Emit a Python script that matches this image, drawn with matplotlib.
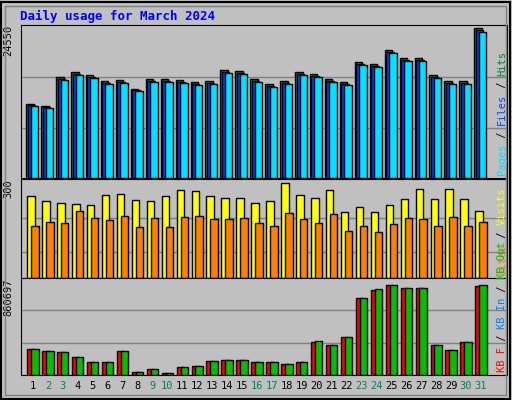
import numpy as np
import matplotlib.pyplot as plt
from matplotlib.patches import Rectangle

days = np.arange(1, 32)
weekend = [2, 3, 9, 10, 16, 17, 23, 24, 30, 31]

hits = [12100, 11760, 16470, 17310, 16810, 15810, 15980, 14640, 16140, 16140,
        15980, 15650, 15810, 17640, 17480, 16140, 15310, 15810, 17310, 16980,
        16140, 15650, 18980, 18640, 20980, 19640, 19640, 16810, 15810, 15810, 24550]
files = [h * 0.985 for h in hits]
pages = [h * 0.975 for h in hits]
visits = [258, 242, 238, 235, 232, 264, 267, 248, 242, 258, 277, 274, 258, 254,
          254, 238, 242, 300, 261, 254, 277, 209, 225, 209, 232, 251, 283, 251, 283, 251, 212]
sites = [166, 176, 173, 212, 189, 183, 196, 160, 189, 160, 192, 196, 186, 186,
         189, 173, 166, 206, 186, 173, 202, 150, 163, 144, 170, 189, 186, 166, 192, 166, 176]
kbf = [252000, 232000, 222000, 174000, 126000, 126000, 232000, 29000, 58000, 19000,
       77000, 87000, 135000, 145000, 145000, 126000, 126000, 106000, 126000, 319000,
       290000, 367000, 735000, 812000, 860697, 831000, 831000, 290000, 242000, 319000, 851000]
kbin = list(kbf)
kbin[23] = 822000
kbin[30] = 860697
kbin[7] = 30000
kbin[19] = 329000

W, H = 512, 400
fig = plt.figure(figsize=(W / 100, H / 100), dpi=100)
fig.patch.set_facecolor('#c0c0c0')
fig.patches.append(Rectangle((1 / W, 1 / H), 1 - 3 / W, 1 - 3 / H, transform=fig.transFigure,
                             fill=False, ec='black', lw=1.5))
fig.patches.append(Rectangle((5 / W, 5 / H), 1 - 11 / W, 1 - 11 / H, transform=fig.transFigure,
                             fill=False, ec='#808080', lw=1))


def pax(x0, y0, x1, y1):
    ax = fig.add_axes([x0 / W, 1 - y1 / H, (x1 - x0) / W, (y1 - y0) / H])
    ax.set_facecolor('#c0c0c0')
    ax.set_xlim(0.2, 32.74)
    ax.set_xticks([])
    ax.set_yticks([])
    for s in ax.spines.values():
        s.set_color('black')
    return ax


def bars(ax, series, colors, offs, w):
    for vals, c, o in zip(series, colors, offs):
        ax.bar(days + o, vals, width=w, color=c, edgecolor='black', lw=1, zorder=3)


mono = 'DejaVu Sans Mono'
fig.text(20 / W, 1 - 16 / H, 'Daily usage for March 2024', color='#0000ff',
         family=mono, weight='bold', fontsize=9, va='center')

ax1 = pax(21, 25, 507, 178)
ax1.set_ylim(0, 24550 * 150 / 147)
for g in [24550 / 147 * 49, 24550 / 147 * 99]:
    ax1.axhline(g, color='#808080', lw=1, zorder=1)
bars(ax1, [hits, files, pages], ['#008040', '#0040ff', '#00e0ff'], [-0.2, -0.1, 0.1], 0.5)

ax2 = pax(21, 179, 507, 278)
ax2.set_ylim(0, 300 * 96 / 92)
for g in [300 / 92 * 25, 300 / 92 * 58]:
    ax2.axhline(g, color='#808080', lw=1, zorder=1)
bars(ax2, [visits, sites], ['#ffff00', '#ff8000'], [-0.13, 0.13], 0.5)

ax3 = pax(21, 278, 507, 375)
ax3.set_ylim(0, 860697 * 96 / 89)
for g in [860697 / 89 * 32, 860697 / 89 * 64]:
    ax3.axhline(g, color='#808080', lw=1, zorder=1)
bars(ax3, [kbf, kbin], ['#ff0000', '#00c000'], [-0.13, 0.13], 0.5)

ax3.set_xticks(days)
ax3.set_xticklabels([str(d) for d in days], family=mono, fontsize=7.5)
ax3.tick_params(axis='x', length=0, pad=4)
for lbl, d in zip(ax3.get_xticklabels(), days):
    lbl.set_color('#008060' if d in weekend else 'black')

for ax, lab in [(ax1, '24550'), (ax2, '300'), (ax3, '860697')]:
    ax.text(-0.015, 1.0, lab, transform=ax.transAxes, rotation=90, ha='right', va='top',
            family=mono, fontsize=7.5)


def side(y_bottom, parts):
    # stacked rotated coloured words, reading bottom to top
    y = y_bottom
    for txt, c in parts:
        fig.text(502 / W, 1 - y / H, txt, rotation=90, rotation_mode='anchor', color=c,
                 family=mono, fontsize=7.5, ha='left', va='center')
        y -= len(txt) * 6.2


side(175, [('Pages', '#00e0ff'), (' / ', 'black'), ('Files', '#0040ff'), (' / ', 'black'), ('Hits', '#008040')])
side(275, [('Sites', '#ff8000'), (' / ', 'black'), ('Visits', '#ffff00')])
side(372, [('KB F', '#ff0000'), (' / ', 'black'), ('KB In', '#0080ff'), (' / ', 'black'), ('KB Out', '#00c000')])

fig.savefig('out.png', dpi=100, facecolor=fig.get_facecolor())
